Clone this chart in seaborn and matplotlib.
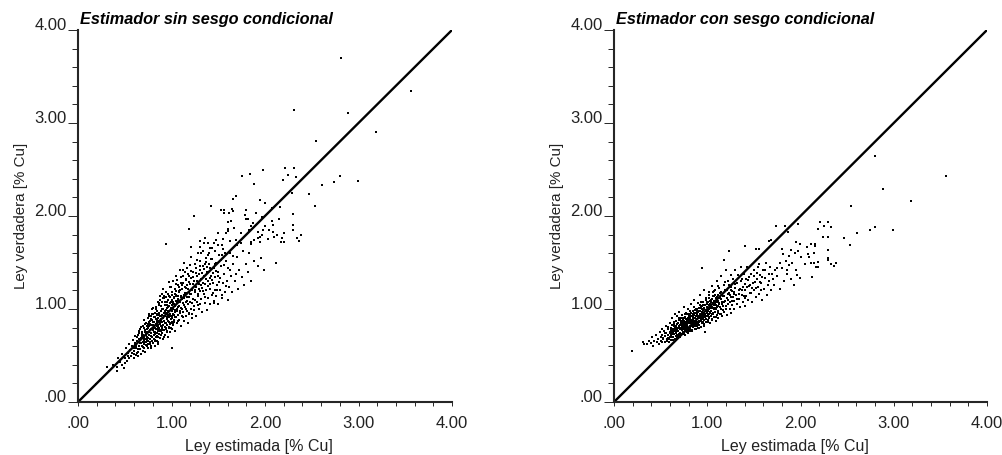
import pandas as pd
import seaborn as sns
import matplotlib.pyplot as plt
from matplotlib.ticker import MultipleLocator, FixedLocator
from matplotlib.transforms import ScaledTranslation

sns.set_theme(style="ticks")
plt.rcParams['font.family'] = ['Liberation Sans', 'DejaVu Sans']

titles = ["Estimador sin sesgo condicional", "Estimador con sesgo condicional"]
xlabel = "Ley estimada [% Cu]"
ylabel = "Ley verdadera [% Cu]"
major_ticks = [0, 1, 2, 3, 4]
tick_labels = [".00", "1.00", "2.00", "3.00", "4.00"]
line_ends = [0, 4]

# left panel
left_sparse = [
    (2.81,3.70),(3.56,3.34),(2.31,3.14),(2.89,3.11),(3.19,2.90),(2.55,2.81),(1.98,2.49),(2.21,2.52),
    (2.31,2.52),(1.75,2.43),(1.84,2.45),(2.25,2.44),(2.33,2.42),(2.19,2.39),(2.80,2.43),(2.74,2.37),
    (2.99,2.38),(2.61,2.33),(1.88,2.34),(2.29,2.25),(2.47,2.24),(2.54,2.11),(1.69,2.21),(1.66,2.18),
    (1.95,2.17),(2.00,2.14),(1.42,2.11),(2.16,2.10),(1.53,2.06),(1.56,2.06),(1.56,2.03),(1.65,2.08),
    (1.66,2.05),(1.62,2.03),(1.80,2.06),(1.79,2.01),(1.90,2.03),(1.24,2.00),(2.30,2.02),(1.97,1.99),
    (2.07,2.09),(2.15,1.97),(2.30,1.90),(2.30,1.85),(2.38,1.80),(2.34,1.76),(2.36,1.73),(2.20,1.82),
    (2.18,1.76),(2.20,1.72),(2.17,1.72),(2.09,1.90),(2.07,1.95),(2.04,1.85),(2.09,1.83),(2.13,1.80),
    (2.10,1.77),(2.03,1.75),(2.00,1.89),(1.98,1.85),(1.97,1.80),(1.95,1.77),(1.93,1.76),(1.95,1.72),
    (1.92,1.83),(1.87,1.92),(1.85,1.89),(1.82,1.97),(1.80,1.97),(1.83,1.85),(1.74,1.82),(1.88,1.74),
    (1.85,1.72),(1.85,1.70),(1.19,1.86),(1.67,1.87),(1.60,1.86),(1.60,1.84),(1.64,1.95),(1.60,1.94),
    (1.50,1.82),(1.58,1.82),(1.55,1.75),(1.48,1.74),(1.36,1.76),(1.30,1.73),(1.35,1.71),(1.39,1.71),
    (1.45,1.71),(1.50,1.69),(1.54,1.69),(1.63,1.73),(1.69,1.74),(1.74,1.71),(1.70,1.69),(1.21,1.67),
    (1.30,1.67),(1.41,1.66),(1.43,1.66),(0.94,1.70),
]
left_core = [
    (.19,.19),(.31,.38),(.33,.33),(.37,.40),(.42,.33),(.42,.38),(.43,.47),(.45,.43),(.47,.40),(.47,.52),
    (.49,.37),(.50,.42),(.50,.47),(.51,.58),(.52,.44),(.53,.53),(.54,.50),(.55,.47),(.55,.62),(.56,.56),
    (.57,.49),(.58,.53),(.58,.60),(.59,.67),(.60,.47),(.60,.55),(.61,.62),(.62,.51),(.62,.58),(.63,.70),
    (.63,.66),(.64,.49),(.64,.54),(.65,.60),(.65,.76),(.66,.63),(.66,.57),(.67,.52),(.67,.69),(.68,.73),
    (.68,.60),(.69,.55),(.69,.82),(.70,.65),(.70,.71),(.71,.58),(.71,.62),(.72,.77),(.72,.68),(.72,.54),
    (.73,.85),(.73,.73),(.73,.64),(.74,.60),(.74,.70),(.75,.80),(.75,.66),(.75,.58),(.76,.75),(.76,.92),
    (.76,.72),(.77,.62),(.77,.68),(.77,.84),(.78,.79),(.78,.58),(.78,.74),(.79,.66),(.79,.88),(.79,.70),
    (.80,.83),(.80,.77),(.80,.63),(.80,.95),(.81,.72),(.81,.86),(.81,.68),(.82,.80),(.82,.75),(.82,.91),
    (.82,.60),(.83,.84),(.83,.70),(.83,.78),(.83,1.00),(.84,.88),(.84,.74),(.84,.66),(.84,.82),(.85,.95),
    (.85,.79),(.85,.71),(.85,.86),(.86,.76),(.86,.90),(.86,.64),(.86,.83),(.87,1.04),(.87,.73),(.87,.87),
    (.87,.80),(.88,.93),(.88,.69),(.88,.84),(.88,.77),(.89,.98),(.89,.82),(.89,.72),(.89,.89),(.90,1.08),
    (.90,.79),(.90,.86),(.90,.74),(.90,.94),(.91,.68),(.91,.83),(.91,1.00),(.91,.90),(.92,.77),(.92,.87),
    (.92,1.12),(.92,.96),(.93,.81),(.93,.72),(.93,.92),(.93,1.04),(.94,.85),(.94,.78),(.94,.99),(.94,1.18),
    (.95,.89),(.95,.75),(.95,.83),(.95,1.08),(.96,.94),(.96,.70),(.96,1.02),(.96,.87),(.97,.80),(.97,1.14),
    (.97,.91),(.97,.98),(.98,1.06),(.98,.84),(.98,.75),(.98,.95),(.99,1.24),(.99,.89),(.99,1.01),(.99,.80),
    (1.00,.58),(1.00,1.10),(1.00,.93),(1.00,.86),(1.00,1.04),(1.01,.98),(1.01,1.18),(1.01,.78),(1.01,.90),
    (1.02,1.30),(1.02,1.07),(1.02,.84),(1.02,1.00),(1.03,.94),(1.03,1.13),(1.03,.88),(1.04,1.03),(1.04,1.22),
    (1.04,.76),(1.04,.97),(1.05,1.09),(1.05,.91),(1.05,1.36),(1.05,1.15),(1.06,1.00),(1.06,.85),(1.06,1.06),
    (1.07,1.26),(1.07,.94),(1.07,1.11),(1.08,1.03),(1.08,.88),(1.08,1.19),(1.09,.98),(1.09,1.42),(1.09,1.08),
    (1.10,1.14),(1.10,.82),(1.10,1.01),(1.10,1.28),(1.11,.93),(1.11,1.21),(1.12,1.06),(1.12,1.35),(1.12,.97),
    (1.13,1.12),(1.13,.87),(1.13,1.50),(1.14,1.02),(1.14,1.24),(1.15,1.17),(1.15,.92),(1.15,1.08),(1.16,1.31),
    (1.16,1.00),(1.17,1.44),(1.17,1.13),(1.18,.85),(1.18,1.22),(1.18,1.05),(1.19,1.36),(1.19,.96),(1.20,1.16),
    (1.20,1.27),(1.20,1.07),(1.21,1.56),(1.21,1.00),(1.22,1.20),(1.22,.90),(1.23,1.40),(1.23,1.11),(1.24,1.30),
    (1.24,1.03),(1.25,1.18),(1.25,1.48),(1.26,.93),(1.26,1.24),(1.27,1.08),(1.27,1.35),(1.28,1.60),(1.28,1.14),
    (1.29,1.00),(1.29,1.27),(1.30,1.42),(1.30,1.19),(1.31,1.05),(1.31,1.52),(1.32,1.32),(1.32,1.11),(1.33,.97),
    (1.33,1.23),(1.34,1.46),(1.34,1.62),(1.35,1.16),(1.35,1.35),(1.36,1.06),(1.36,1.27),(1.37,1.55),(1.37,1.20),
    (1.38,.99),(1.38,1.40),(1.39,1.12),(1.39,1.30),(1.40,1.60),(1.40,1.48),(1.41,1.22),(1.41,1.05),(1.42,1.36),
    (1.43,1.15),(1.43,1.54),(1.44,1.28),(1.45,1.44),(1.45,1.09),(1.46,1.62),(1.46,1.20),(1.47,1.34),(1.48,1.50),
    (1.48,1.14),(1.49,1.26),(1.50,1.40),(1.50,1.05),(1.51,1.58),(1.52,1.20),(1.52,1.33),(1.53,1.46),(1.54,1.12),
    (1.55,1.28),(1.55,1.64),(1.56,1.38),(1.57,1.18),(1.58,1.52),(1.59,1.30),(1.60,1.10),(1.60,1.44),(1.62,1.24),
    (1.63,1.60),(1.64,1.36),(1.65,1.18),(1.66,1.48),(1.68,1.30),(1.70,1.56),(1.71,1.22),(1.72,1.42),(1.75,1.34),
    (1.76,1.62),(1.78,1.26),(1.80,1.48),(1.82,1.40),(1.83,1.60),(1.85,1.30),(1.88,1.52),(1.92,1.46),(1.96,1.55),
    (1.99,1.42),(2.12,1.50),
]
# second pass over the dense part of the left cloud
left_fill = [
    (.815,.913),(.657,.742),(1.123,1.284),(.746,.627),(.893,1.037),(.968,.862),(.584,.668),(1.247,1.093),(.721,.838),(1.046,1.191),
    (.853,.697),(.932,.983),(.694,.596),(1.178,1.377),(.777,.893),(1.014,.827),(.637,.573),(1.302,1.458),(.869,1.062),(.943,1.127),
    (.738,.782),(1.087,.953),(.613,.713),(1.212,1.156),(.824,.653),(.982,1.232),(.702,.663),(1.137,1.043),(.908,.771),(.789,.947),
    (1.263,1.386),(.671,.806),(1.058,1.312),(.846,.981),(.752,.693),(1.162,.977),(.927,1.078),(.596,.512),(1.341,1.197),(.803,.856),
    (1.009,1.148),(.689,.758),(1.108,1.257),(.878,.762),(.954,.914),(.763,.813),(1.198,1.473),(.645,.647),(1.073,.872),(.836,1.026),
    (.918,.698),(.711,.877),(1.284,1.162),(.797,.637),(1.032,1.056),(.882,1.143),(.728,.608),(1.142,1.171),(.623,.597),(.961,1.163),
    (1.226,1.342),(.842,.742),(.758,.857),(1.018,.941),(.903,1.003),(.679,.638),(1.097,1.346),(.811,.814),(1.353,1.488),(.934,.847),
    (.741,.758),(1.171,1.089),(.868,.935),(.607,.632),(.992,1.072),(1.238,.987),(.786,.713),(1.067,1.022),(.913,1.213),(.698,.724),
    (1.128,.914),(.827,.957),(.975,.803),(.751,.906),(1.314,1.253),(.641,.718),(1.043,1.274),(.889,.764),(.772,.776),(1.191,1.294),
    (.956,1.047),(.717,.642),(1.102,1.126),(.848,.846),(.664,.783),(1.276,1.524),(.919,.873),(.806,1.013),(1.023,1.118),(.733,.689),
    (1.153,1.227),(.873,1.094),(.592,.576),(.987,.921),(1.219,1.063),(.782,.607),(.941,.956),(1.077,1.187),(.856,.623),(.706,.793),
    (1.368,1.327),(.629,.522),(1.029,.863),(.897,1.156),(.768,.827),(1.148,1.403),(.951,.762),(.684,.708),(1.253,1.207),(.838,.704),
    (1.063,.982),(.792,1.004),(.907,.833),(.651,.681),(1.117,1.108),(.977,1.287),(.743,.663),(1.184,.943),(.858,.803),(.998,.853),
    (1.407,1.337),(.718,.751),(.924,1.144),(1.081,1.238),(.819,.662),(.606,.584),(1.292,1.378),(.885,.926),(.757,.941),(1.038,.912),
    (1.426,1.534),(1.447,1.173),(1.512,1.286),(1.474,1.412),(1.538,1.583),(1.392,1.243),(1.563,1.471),(1.458,1.063),(1.587,1.247),(1.416,1.442),
    (1.497,1.356),(1.623,1.418),(1.372,1.504),(1.544,1.148),(1.658,1.566),(1.437,1.317),(1.572,1.604),(1.483,1.208),(1.694,1.372),(1.527,1.524),
    (1.213,1.412),(1.337,1.283),(1.154,1.318),(1.286,1.044),(1.073,1.083),(1.392,1.586),(1.235,1.264),(1.108,.996),(1.467,1.487),(1.324,1.386),
    (1.182,1.124),(1.043,1.143),(1.271,1.297),(1.126,1.417),(1.358,1.124),(1.204,1.336),(1.412,1.274),(1.094,1.204),(1.257,1.446),(1.166,1.262),
    (1.318,1.598),(1.037,.993),(1.223,.942),(1.383,1.451),(1.133,1.147),(1.448,1.386),(1.296,1.213),(1.068,1.137),(1.189,1.186),(1.346,1.427),
    (.773,.867),(.864,.952),(.725,.723),(.896,.806),(.808,.748),(.947,1.016),(.831,.893),(.768,.648),(.922,.926),(.874,.857),
    (.734,.814),(.852,1.072),(.795,.824),(.937,.794),(.784,.922),(.905,1.122),(.822,.728),(.966,1.094),(.857,.772),(.708,.688),
    (.973,1.028),(.893,.881),(.746,.844),(1.012,1.053),(.841,.933),(.958,.974),(.806,.782),(1.034,1.164),(.884,.812),(.985,1.134),
]

# right panel
right_sparse = [
    (2.80,2.64),(3.56,2.43),(2.89,2.29),(3.18,2.16),(2.54,2.11),(2.99,1.85),(2.80,1.88),(2.74,1.85),
    (2.61,1.82),(2.47,1.76),(2.53,1.69),(2.38,1.50),(2.33,1.48),(2.36,1.46),(2.29,1.55),(2.29,1.53),
    (2.29,1.63),(2.21,1.94),(2.30,1.94),(2.25,1.89),(2.33,1.88),(2.19,1.86),(2.24,1.77),(2.29,1.77),
    (2.16,1.70),(2.16,1.68),(2.11,1.70),(2.07,1.67),(1.99,1.70),(1.95,1.72),(1.97,1.91),(1.87,1.83),
    (1.83,1.89),(1.74,1.89),(1.68,1.74),(1.66,1.73),(1.41,1.68),(1.23,1.62),(.94,1.44),(1.56,1.65),
    (1.52,1.65),(1.18,1.53),(2.12,1.34),(1.99,1.33),(1.96,1.37),(2.14,1.60),(2.08,1.59),(2.09,1.56),
    (2.00,1.56),(1.97,1.62),(1.94,1.60),(1.90,1.63),(1.80,1.64),(1.81,1.59),(1.88,1.57),(1.78,1.50),
    (1.84,1.52),(1.75,1.44),(1.91,1.50),(1.86,1.42),(2.05,1.48),(2.11,1.49),(2.17,1.45),(2.14,1.50),
    (2.19,1.51),(2.19,1.45),(.19,.55),
]
right_core = [
    (.31,.64),(.32,.62),(.35,.62),(.38,.66),(.40,.63),(.41,.70),(.42,.60),(.43,.66),(.45,.72),(.46,.64),
    (.47,.68),(.48,.62),(.49,.75),(.50,.70),(.50,.66),(.51,.79),(.52,.72),(.52,.64),(.53,.68),(.54,.76),
    (.55,.71),(.55,.65),(.56,.82),(.56,.74),(.57,.68),(.58,.78),(.58,.72),(.59,.65),(.60,.85),(.60,.75),
    (.60,.70),(.61,.80),(.61,.67),(.62,.74),(.62,.90),(.63,.77),(.63,.70),(.64,.84),(.64,.73),(.65,.80),
    (.65,.68),(.65,.95),(.66,.76),(.66,.87),(.66,.71),(.67,.82),(.67,.74),(.68,.78),(.68,.92),(.68,.70),
    (.69,.85),(.69,.76),(.69,.80),(.70,.72),(.70,.88),(.70,.97),(.71,.78),(.71,.83),(.71,.74),(.72,.90),
    (.72,.80),(.72,.73),(.73,.85),(.73,.77),(.73,.94),(.74,.82),(.74,.75),(.74,.88),(.75,.79),(.75,1.02),
    (.75,.84),(.76,.76),(.76,.91),(.76,.81),(.77,.86),(.77,.78),(.77,.96),(.78,.83),(.78,.75),(.78,.89),
    (.79,.80),(.79,1.00),(.79,.85),(.80,.78),(.80,.92),(.80,.87),(.81,.82),(.81,.95),(.81,.76),(.82,.90),
    (.82,.85),(.82,.79),(.83,1.05),(.83,.88),(.83,.82),(.84,.93),(.84,.77),(.84,.85),(.85,.98),(.85,.90),
    (.85,.81),(.86,.87),(.86,1.10),(.86,.94),(.87,.84),(.87,.79),(.87,.90),(.88,1.00),(.88,.86),(.88,.93),
    (.89,.82),(.89,.96),(.89,.89),(.90,.80),(.90,1.06),(.90,.92),(.91,.86),(.91,.98),(.91,.83),(.92,.90),
    (.92,1.15),(.92,.94),(.93,.87),(.93,1.02),(.93,.81),(.94,.92),(.94,.97),(.94,.85),(.95,1.08),(.95,.89),
    (.95,.93),(.96,1.00),(.96,.84),(.96,.91),(.97,1.20),(.97,.96),(.97,.88),(.98,1.04),(.98,.93),(.98,.75),
    (.99,.99),(.99,.86),(.99,1.12),(1.00,.92),(1.00,1.02),(1.00,.96),(1.01,.88),(1.01,1.07),(1.01,.94),
    (1.02,1.00),(1.02,1.18),(1.02,.90),(1.03,1.04),(1.03,.96),(1.03,.85),(1.04,1.10),(1.04,.98),(1.04,.92),
    (1.05,1.02),(1.05,1.25),(1.05,.88),(1.06,1.06),(1.06,.95),(1.06,1.14),(1.07,1.00),(1.07,.91),(1.07,1.09),
    (1.08,.97),(1.08,1.04),(1.08,1.20),(1.09,.87),(1.09,1.12),(1.09,1.00),(1.10,1.07),(1.10,.94),(1.10,1.30),
    (1.11,1.03),(1.11,1.15),(1.12,.98),(1.12,1.09),(1.12,.90),(1.13,1.23),(1.13,1.05),(1.14,.95),(1.14,1.12),
    (1.15,1.00),(1.15,1.18),(1.15,1.35),(1.16,1.07),(1.16,.92),(1.17,1.14),(1.17,1.03),(1.18,1.26),(1.18,.97),
    (1.19,1.09),(1.19,1.20),(1.20,1.00),(1.20,1.42),(1.21,1.12),(1.21,.94),(1.22,1.05),(1.22,1.30),(1.23,1.17),
    (1.24,1.00),(1.24,1.08),(1.25,1.24),(1.25,1.37),(1.26,1.13),(1.26,.96),(1.27,1.04),(1.27,1.19),(1.28,1.32),
    (1.29,1.09),(1.29,1.00),(1.30,1.23),(1.30,1.42),(1.31,1.15),(1.32,1.05),(1.32,1.28),(1.33,1.37),(1.34,1.11),
    (1.34,1.20),(1.35,1.02),(1.36,1.30),(1.36,1.45),(1.37,1.15),(1.38,1.07),(1.38,1.24),(1.39,1.38),(1.40,1.12),
    (1.41,1.20),(1.41,1.03),(1.42,1.32),(1.43,1.45),(1.44,1.10),(1.45,1.25),(1.46,1.17),(1.47,1.38),(1.48,1.08),
    (1.49,1.28),(1.50,1.20),(1.50,1.42),(1.52,1.13),(1.53,1.32),(1.54,1.24),(1.55,1.48),(1.56,1.16),(1.57,1.37),
    (1.58,1.28),(1.59,1.10),(1.60,1.42),(1.61,1.21),(1.62,1.33),(1.63,1.50),(1.64,1.15),(1.65,1.26),(1.66,1.38),
    (1.67,1.45),(1.68,1.20),(1.70,1.32),(1.72,1.26),(1.73,1.42),(1.75,1.35),(1.78,1.22),(1.80,1.44),(1.82,1.30),
    (1.85,1.38),(1.88,1.47),(1.90,1.32),(1.93,1.26),(1.95,1.42),
]
# second pass over the dense part of the right cloud
right_fill = [
    (.816,.903),(.657,.762),(1.123,1.064),(.746,.867),(.893,.937),(.968,1.012),(.584,.693),(1.247,1.153),(.721,.838),(1.046,.943),
    (.853,.957),(.932,.883),(.694,.736),(1.178,1.077),(.777,.893),(1.014,1.041),(.637,.783),(1.302,1.268),(.869,.812),(.943,1.037),
    (.738,.792),(1.087,1.153),(.613,.717),(1.212,1.206),(.824,.773),(.982,.976),(.702,.813),(1.137,1.018),(.908,.871),(.789,.947),
    (1.263,1.083),(.671,.706),(1.058,1.012),(.846,.881),(.752,.727),(1.162,1.147),(.927,.983),(.596,.747),(1.341,1.163),(.803,.856),
    (1.009,.982),(.689,.768),(1.108,1.023),(.878,.962),(.954,.914),(.763,.813),(1.198,1.034),(.645,.727),(1.073,1.136),(.836,.826),
    (.918,1.048),(.711,.877),(1.284,1.162),(.797,.737),(1.032,1.056),(.882,.843),(.728,.808),(1.142,1.171),(.623,.697),(.961,.951),
    (1.226,1.097),(.842,.912),(.758,.857),(1.018,.941),(.903,.963),(.679,.838),(1.097,1.046),(.811,.794),(1.353,1.218),(.934,1.007),
    (.741,.758),(1.171,.993),(.868,.905),(.607,.782),(.992,1.072),(1.238,1.262),(.786,.873),(1.067,.962),(.913,.826),(.698,.724),
    (1.128,1.114),(.827,.957),(.975,.913),(.751,.906),(1.314,1.103),(.641,.818),(1.043,1.074),(.889,.864),(.772,.776),(1.191,1.294),
    (.956,1.047),(.717,.782),(1.102,1.126),(.848,.846),(.664,.793),(1.276,1.124),(.919,.873),(.806,.913),(1.023,1.118),(.733,.829),
    (1.153,1.057),(.873,.994),(.592,.676),(.987,.921),(1.219,1.163),(.782,.807),(.941,.956),(1.077,1.087),(.856,.823),(.706,.793),
    (1.368,1.327),(.629,.752),(1.029,.963),(.897,.916),(.768,.827),(1.148,1.103),(.951,.862),(.684,.708),(1.253,1.207),(.838,.874),
    (1.063,1.182),(.792,.904),(.907,1.013),(.651,.781),(1.117,.953),(.977,1.047),(.743,.863),(1.184,1.143),(.858,.903),(.998,1.053),
    (1.407,1.267),(.718,.851),(.924,.944),(1.081,1.008),(.819,.862),(.606,.734),(1.292,1.178),(.885,.926),(.757,.941),(1.038,1.012),
    (1.426,1.234),(1.447,1.343),(1.512,1.286),(1.474,1.172),(1.538,1.383),(1.392,1.143),(1.563,1.291),(1.458,1.263),(1.587,1.347),(1.416,1.142),
    (1.497,1.356),(1.623,1.418),(1.372,1.204),(1.544,1.448),(1.658,1.306),(1.437,1.317),(1.572,1.204),(1.483,1.228),(1.694,1.372),(1.527,1.224),
    (.523,.687),(.547,.742),(.566,.653),(.574,.807),(.618,.823),(.634,.668),(.648,.857),(.676,.682),(.692,.902),(.713,.703),
    (.736,.908),(.764,.724),(.783,.943),(.798,.752),(.814,.978),(.833,.762),(.861,1.024),(.876,.783),(.894,1.003),(.916,.794),
    (.938,1.074),(.962,.817),(.984,1.096),(1.006,.856),(1.024,1.148),(1.053,.896),(1.074,1.196),(1.094,.917),(1.119,1.246),(1.143,.942),
    (.626,.728),(.683,.792),(.744,.803),(.805,.887),(.847,.803),(.887,.977),(.928,.908),(.974,.944),(1.015,.912),(1.056,1.103),
    (.664,.748),(.723,.866),(.772,.842),(.828,.928),(.865,.867),(.912,.913),(.952,.987),(.993,1.024),(1.035,1.023),(1.084,1.067),
    (.612,.761),(.674,.723),(.735,.743),(.791,.778),(.846,.942),(.899,.843),(.947,1.003),(.983,.891),(1.027,1.087),(1.068,1.043),
]

panels = [left_sparse + left_core + left_fill, right_sparse + right_core + right_fill]

fig = plt.figure(figsize=(10.02, 4.55), dpi=100)
W, H = 1002.0, 455.0
boxes = [(78, 30, 374, 372), (614, 30, 373, 372)]
label_shift = ScaledTranslation(0, -3 / 100, fig.dpi_scale_trans)

for pts, title, (px, py, pw, ph) in zip(panels, titles, boxes):
    ax = fig.add_axes([px / W, 1 - (py + ph) / H, pw / W, ph / H])
    df = pd.DataFrame(pts, columns=['x', 'y'])
    sns.scatterplot(data=df, x='x', y='y', ax=ax, color='black', s=3.4, linewidth=0, marker='s', clip_on=False)
    sns.lineplot(x=line_ends, y=line_ends, ax=ax, color='black', linewidth=1.7, errorbar=None)
    ax.set_xlim(0, 4)
    ax.set_ylim(0, 4)
    sns.despine(ax=ax)
    for s in ['left', 'bottom']:
        ax.spines[s].set_linewidth(1.5)

    ax.xaxis.set_major_locator(FixedLocator(major_ticks))
    ax.yaxis.set_major_locator(FixedLocator(major_ticks))
    ax.xaxis.set_minor_locator(MultipleLocator(0.2))
    ax.yaxis.set_minor_locator(MultipleLocator(0.2))
    ax.set_xticklabels(tick_labels, fontsize=12, color='#222222')
    ax.set_yticklabels(tick_labels, fontsize=12, color='#222222')
    ax.tick_params(axis='x', which='both', length=3, width=0.7, pad=7)
    ax.tick_params(axis='y', which='major', length=7, width=0.7, pad=1)
    ax.tick_params(axis='y', which='minor', length=4, width=0.7)
    # tick_params resets the label transform, so this has to come after it
    for lab in ax.get_yticklabels():
        lab.set_va('bottom')
        lab.set_transform(lab.get_transform() + label_shift)

    ax.set_xlabel(xlabel, fontsize=11.5, labelpad=6, color='#222222', x=0.484)
    ax.set_ylabel(ylabel, fontsize=10.9, labelpad=5, color='#222222', y=0.501)
    ax.text(0.005, 1.007, title, transform=ax.transAxes, fontsize=11.7, fontweight='bold',
            fontstyle='italic', color='black', ha='left', va='bottom')

fig.savefig("out.png", dpi=100)
